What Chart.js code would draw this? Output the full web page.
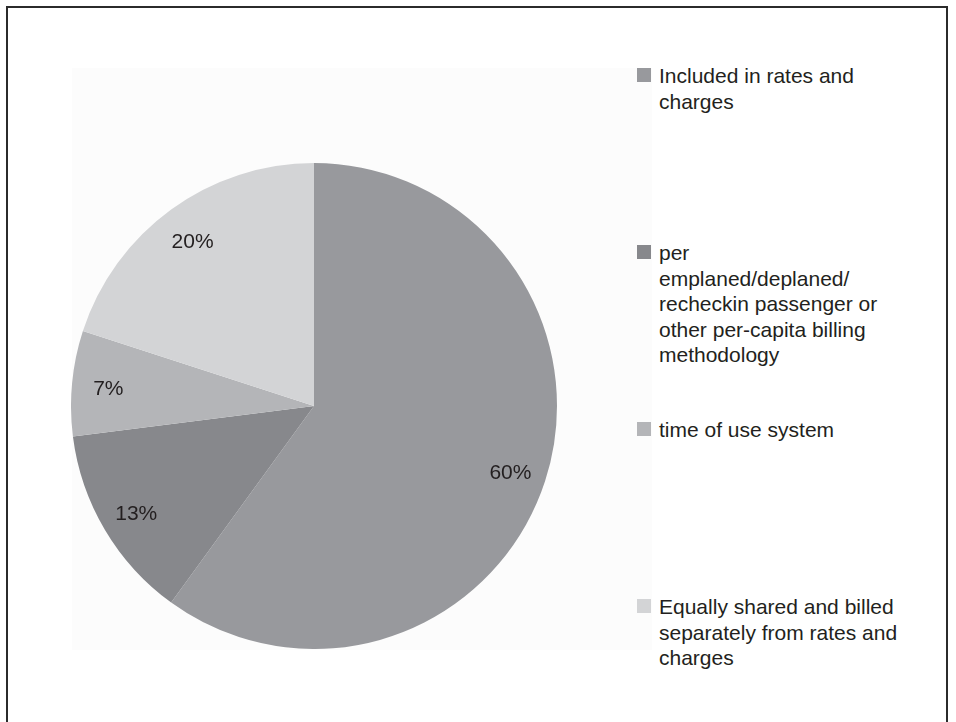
<!DOCTYPE html>
<html>
<head>
<meta charset="utf-8">
<script src="https://cdn.jsdelivr.net/npm/chart.js@4"></script>
<style>
  html, body { margin: 0; padding: 0; background: #fff; }
  body { width: 956px; height: 722px; position: relative; overflow: hidden;
         font-family: "Liberation Sans", Arial, Helvetica, sans-serif; color: #231f20; }
  #frame { position: absolute; left: 6px; top: 6px; width: 942px; height: 730px;
           border: 2px solid #2b2b2b; box-sizing: border-box; }
  #plotBg { position: absolute; left: 72px; top: 68px; width: 580px; height: 582px; background: #fcfcfc; }
  #pieWrap { position: absolute; left: 71px; top: 163px; width: 486px; height: 486px; }
  #legend { position: absolute; left: 637px; top: 0; width: 300px; }
  .item { position: absolute; left: 0; display: flex; align-items: flex-start; }
  .box { width: 14px; height: 14px; margin-top: 5px; margin-right: 8px; flex: none; }
  .txt { font-size: 21px; line-height: 25.5px; white-space: nowrap; }
</style>
</head>
<body>
<div id="frame"></div>
<div id="plotBg"></div>
<div id="pieWrap"><canvas id="pieChart"></canvas></div>
<div id="legend"></div>
<script>
// categories (each an array of legend lines) and slice values in percent
const categories = [
  ["Included in rates and", "charges"],
  ["per", "emplaned/deplaned/", "recheckin passenger or", "other per-capita billing", "methodology"],
  ["time of use system"],
  ["Equally shared and billed", "separately from rates and", "charges"]
];
const shares = [60, 13, 7, 20];
const sliceColors = ["#98999d", "#87888c", "#b4b5b8", "#d3d4d6"];

// percent labels drawn on the slices
const pctLabels = {
  id: "pctLabels",
  afterDatasetsDraw(chart) {
    const ctx = chart.ctx;
    const meta = chart.getDatasetMeta(0);
    ctx.save();
    ctx.font = '21px "Liberation Sans", Arial, sans-serif';
    ctx.fillStyle = "#231f20";
    ctx.textAlign = "center";
    ctx.textBaseline = "middle";
    meta.data.forEach((arc, i) => {
      const mid = (arc.startAngle + arc.endAngle) / 2;
      const r = arc.outerRadius * 0.85;
      ctx.fillText(shares[i] + "%", arc.x + Math.cos(mid) * r, arc.y + Math.sin(mid) * r + 3);
    });
    ctx.restore();
  }
};

// html legend, one entry per category
const legendEl = document.getElementById("legend");
categories.forEach((lines, i) => {
  const item = document.createElement("div");
  item.className = "item";
  item.style.top = (63 + i * 177) + "px";
  const box = document.createElement("span");
  box.className = "box";
  box.style.background = sliceColors[i];
  const txt = document.createElement("div");
  txt.className = "txt";
  txt.innerHTML = lines.join("<br>");
  item.appendChild(box);
  item.appendChild(txt);
  legendEl.appendChild(item);
});

new Chart(document.getElementById("pieChart"), {
  type: "pie",
  data: {
    labels: categories,
    datasets: [{
      data: shares,
      backgroundColor: sliceColors,
      borderWidth: 0
    }]
  },
  options: {
    responsive: true,
    maintainAspectRatio: false,
    animation: false,
    layout: { padding: 0 },
    plugins: {
      legend: { display: false },
      tooltip: { enabled: false }
    }
  },
  plugins: [pctLabels]
});
</script>
</body>
</html>
